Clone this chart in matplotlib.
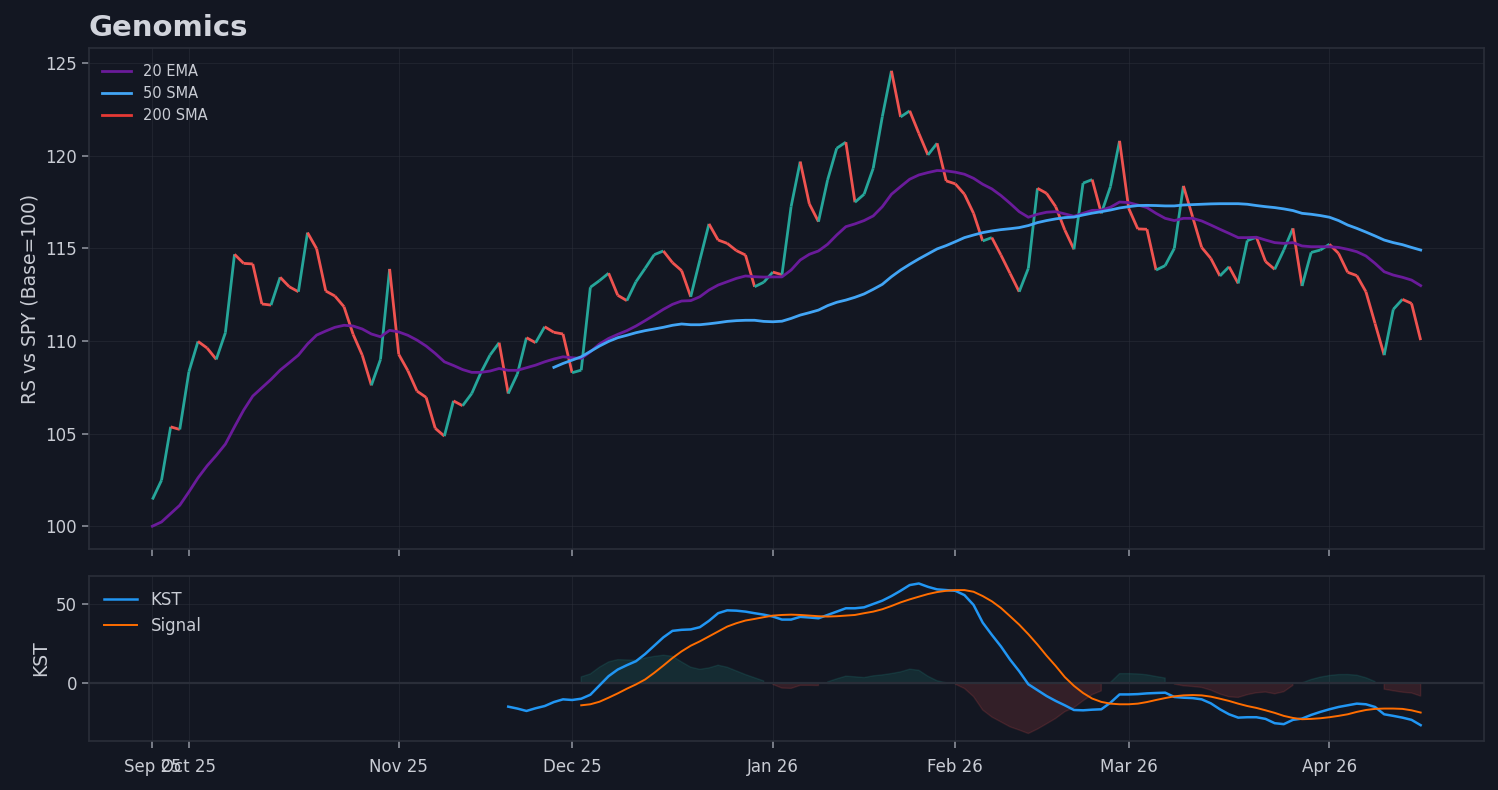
import numpy as np
import matplotlib
matplotlib.use("Agg")
import matplotlib.pyplot as plt
from matplotlib.collections import LineCollection

# ---------------------------------
# Data (trading-day index from Sep 25 2025)
# ---------------------------------

price = [
    101.44, 102.48, 105.36, 105.22, 108.33, 109.97, 109.61, 109.00, 110.44, 114.67,
    114.18, 114.15, 111.99, 111.93, 113.43, 112.92, 112.65, 115.84, 114.97, 112.69,
    112.42, 111.84, 110.35, 109.23, 107.60, 109.00, 113.88, 109.27, 108.39, 107.29,
    106.95, 105.28, 104.86, 106.76, 106.50, 107.16, 108.28, 109.23, 109.90, 107.16,
    108.21, 110.17, 109.90, 110.76, 110.46, 110.37, 108.28, 108.42, 112.89, 113.25,
    113.65, 112.46, 112.17, 113.19, 113.91, 114.65, 114.85, 114.22, 113.79, 112.38,
    114.36, 116.31, 115.44, 115.26, 114.87, 114.63, 112.92, 113.16, 113.71, 113.57,
    117.24, 119.67, 117.39, 116.43, 118.68, 120.39, 120.72, 117.48, 117.91, 119.31,
    122.10, 124.57, 122.08, 122.41, 121.20, 120.03, 120.66, 118.63, 118.47, 117.91,
    116.88, 115.39, 115.57, 114.63, 113.64, 112.65, 113.91, 118.23, 117.96, 117.24,
    115.98, 114.94, 118.51, 118.70, 116.88, 118.32, 120.79, 117.15, 116.04, 116.02,
    113.82, 114.06, 114.99, 118.36, 116.70, 115.04, 114.45, 113.50, 114.00, 113.10,
    115.41, 115.59, 114.28, 113.86, 114.90, 116.07, 112.96, 114.77, 114.90, 115.21,
    114.72, 113.70, 113.52, 112.65, 110.94, 109.23, 111.70, 112.24, 112.02, 110.04,
]

ema20 = [
    100.00, 100.23, 100.68, 101.13, 101.85, 102.61, 103.26, 103.82, 104.43, 105.36,
    106.26, 107.02, 107.47, 107.92, 108.42, 108.82, 109.23, 109.83, 110.31, 110.53,
    110.73, 110.84, 110.80, 110.64, 110.37, 110.22, 110.57, 110.48, 110.30, 110.04,
    109.72, 109.32, 108.87, 108.67, 108.45, 108.30, 108.30, 108.37, 108.51, 108.41,
    108.41, 108.55, 108.69, 108.87, 109.02, 109.14, 109.09, 109.05, 109.41, 109.83,
    110.13, 110.35, 110.55, 110.80, 111.09, 111.39, 111.70, 111.97, 112.15, 112.17,
    112.38, 112.74, 113.01, 113.19, 113.37, 113.50, 113.46, 113.44, 113.45, 113.45,
    113.82, 114.36, 114.67, 114.85, 115.21, 115.71, 116.16, 116.31, 116.49, 116.74,
    117.24, 117.91, 118.32, 118.72, 118.95, 119.08, 119.19, 119.17, 119.10, 118.99,
    118.77, 118.45, 118.20, 117.84, 117.42, 116.97, 116.67, 116.83, 116.94, 116.97,
    116.85, 116.72, 116.88, 117.04, 117.05, 117.21, 117.49, 117.46, 117.33, 117.19,
    116.88, 116.61, 116.49, 116.61, 116.61, 116.47, 116.25, 116.02, 115.80, 115.57,
    115.57, 115.59, 115.44, 115.30, 115.26, 115.30, 115.12, 115.08, 115.08, 115.08,
    115.04, 114.94, 114.81, 114.58, 114.18, 113.73, 113.55, 113.43, 113.28, 112.98,
]

sma50_start = 44
sma50 = [
    108.57, 108.78, 108.96, 109.14, 109.43, 109.72, 109.97, 110.17, 110.30, 110.44,
    110.55, 110.64, 110.73, 110.84, 110.91, 110.87, 110.87, 110.92, 110.98, 111.05,
    111.09, 111.11, 111.11, 111.05, 111.03, 111.06, 111.21, 111.39, 111.52, 111.66,
    111.90, 112.08, 112.20, 112.35, 112.53, 112.78, 113.05, 113.46, 113.82, 114.13,
    114.42, 114.69, 114.96, 115.14, 115.35, 115.57, 115.71, 115.84, 115.93, 116.00,
    116.05, 116.11, 116.22, 116.38, 116.49, 116.58, 116.65, 116.68, 116.79, 116.89,
    116.97, 117.06, 117.17, 117.24, 117.30, 117.31, 117.30, 117.28, 117.28, 117.33,
    117.35, 117.37, 117.39, 117.40, 117.40, 117.40, 117.37, 117.30, 117.24, 117.19,
    117.12, 117.03, 116.88, 116.83, 116.76, 116.67, 116.49, 116.25, 116.07, 115.87,
    115.66, 115.44, 115.30, 115.19, 115.04, 114.90,
]

kst_start = 39
kst = [
    -14.6, -15.8, -17.3, -15.6, -14.2, -11.7, -10.0, -10.4, -9.6, -7.1,
    -1.25, 4.6, 8.75, 11.5, 14.0, 18.5, 23.75, 29.0, 33.1, 33.75,
    34.0, 35.4, 39.4, 44.2, 46.0, 45.8, 45.2, 44.2, 43.3, 42.1,
    40.2, 40.2, 41.9, 41.5, 41.0, 43.1, 45.2, 47.3, 47.3, 47.9,
    50.0, 52.1, 55.0, 58.3, 61.9, 62.9, 60.8, 59.2, 58.75, 58.3,
    55.6, 49.4, 38.3, 30.6, 23.3, 15.0, 7.7, -0.5, -4.2, -7.9,
    -11.0, -13.75, -16.7, -16.9, -16.5, -16.25, -12.1, -6.9, -6.9, -6.7,
    -6.25, -6.0, -5.8, -8.5, -8.96, -9.2, -10.0, -12.5, -16.25, -19.4,
    -21.5, -21.25, -21.25, -22.3, -25.0, -25.6, -22.9, -22.1, -19.8, -17.9,
    -16.25, -14.8, -13.75, -12.7, -13.1, -14.8, -19.4, -20.4, -21.5, -22.9,
    -26.25,
]

signal_start = 47
signal = [
    -13.75, -13.1, -11.5, -8.96, -6.25, -3.3, -0.6, 2.5, 6.7, 11.25,
    16.0, 20.2, 23.75, 26.5, 29.6, 32.7, 35.8, 37.9, 39.6, 40.6,
    41.7, 42.7, 43.1, 43.3, 43.1, 42.7, 42.3, 42.1, 42.3, 42.7,
    43.1, 44.2, 45.2, 46.7, 48.75, 51.0, 52.9, 54.6, 56.25, 57.5,
    58.3, 58.75, 58.75, 57.7, 55.0, 51.7, 47.5, 42.3, 37.0, 31.0,
    24.5, 17.5, 11.0, 4.0, -1.5, -6.0, -9.5, -11.6, -12.7, -13.1,
    -13.1, -12.7, -11.7, -10.4, -9.2, -8.1, -7.5, -7.3, -7.5, -8.3,
    -9.6, -11.0, -12.7, -14.2, -15.4, -16.9, -18.5, -20.4, -21.7, -22.5,
    -22.3, -21.9, -21.25, -20.4, -19.4, -17.9, -16.7, -16.0, -15.8, -15.8,
    -16.0, -16.9, -18.3,
]

month_tick_idx = [0, 4, 27, 46, 68, 88, 107, 129]
month_labels = ["Sep 25", "Oct 25", "Nov 25", "Dec 25", "Jan 26", "Feb 26", "Mar 26", "Apr 26"]

# ---------------------------------
# Style
# ---------------------------------

BG = "#131722"
GRID = "#2a2e39"
TEXT = "#c9ccd4"
UP = "#26a69a"
DOWN = "#ef5350"

plt.rcParams["font.family"] = ["DejaVu Sans"]

fig = plt.figure(figsize=(14.98, 7.9), dpi=100, facecolor=BG)
ax = fig.add_axes([0.0594, 0.3051, 0.9313, 0.6341])
ax2 = fig.add_axes([0.0594, 0.0620, 0.9313, 0.2089], sharex=ax)

for a in (ax, ax2):
    a.set_facecolor(BG)
    for s in a.spines.values():
        s.set_color(GRID)
        s.set_linewidth(1.2)
    a.tick_params(colors=TEXT, labelsize=12, length=5, width=1.2)
    a.tick_params(axis="both", which="both", color="#8a8e99")
    a.grid(True, color=GRID, alpha=0.55, linewidth=0.8)
    a.set_axisbelow(True)

# ---------------------------------
# Price panel
# ---------------------------------

x = np.arange(len(price))
p = np.array(price)
pts = np.column_stack([x, p])
segs = np.stack([pts[:-1], pts[1:]], axis=1)
seg_colors = [UP if d >= 0 else DOWN for d in np.diff(p)]
lc = LineCollection(segs, colors=seg_colors, linewidths=2.0, zorder=2)
ax.add_collection(lc)

ax.plot(x, ema20, color="#6a1b9a", lw=2.0, label="20 EMA", zorder=3)
x50 = np.arange(sma50_start, sma50_start + len(sma50))
ax.plot(x50, sma50, color="#42a5f5", lw=2.0, label="50 SMA", zorder=4)
ax.plot([], [], color="#e53935", lw=2.0, label="200 SMA")

ax.autoscale_view()
ax.set_ylabel("RS vs SPY (Base=100)", color=TEXT, fontsize=13.5)
ax.set_title("Genomics", loc="left", color="#d1d4dc", fontsize=21,
             fontweight="bold", pad=9)
ax.tick_params(labelbottom=False)

leg = ax.legend(loc="upper left", frameon=False, fontsize=10.5,
                bbox_to_anchor=(0.0, 0.995))
for t in leg.get_texts():
    t.set_color(TEXT)

# ---------------------------------
# KST panel
# ---------------------------------

xk = np.arange(kst_start, kst_start + len(kst))
xs = np.arange(signal_start, signal_start + len(signal))
k_al = np.array(kst)[signal_start - kst_start:]
hist = k_al - np.array(signal)

ax2.fill_between(xs, 0, hist, where=hist >= 0, color=UP, alpha=0.15, zorder=1)
ax2.fill_between(xs, 0, hist, where=hist < 0, color=DOWN, alpha=0.15, zorder=1)
ax2.axhline(0, color=GRID, lw=1.6, zorder=2)
ax2.plot(xk, kst, color="#2196f3", lw=1.8, label="KST", zorder=3)
ax2.plot(xs, signal, color="#ff6d00", lw=1.4, label="Signal", zorder=3)

ax2.set_ylabel("KST", color=TEXT, fontsize=13.5)
ax2.set_yticks([0, 50])
ax2.set_xticks(month_tick_idx)
ax2.set_xticklabels(month_labels)
ax2.tick_params(axis="x", pad=7)

leg2 = ax2.legend(loc="upper left", frameon=False, fontsize=12,
                  labelspacing=0.5)
for t in leg2.get_texts():
    t.set_color(TEXT)

fig.savefig("out.png", dpi=100, facecolor=BG)
